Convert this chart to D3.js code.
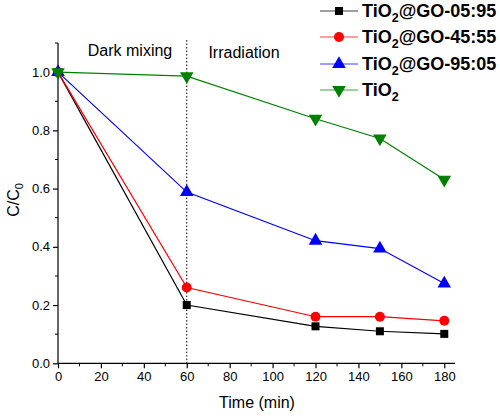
<!DOCTYPE html>
<html><head><meta charset="utf-8">
<script src="https://cdn.jsdelivr.net/npm/d3@7"></script>
<style>body{margin:0;background:#fff;}svg{display:block;font-family:"Liberation Sans",Arial,sans-serif;}</style>
</head><body>
<svg id="c" width="500" height="416"></svg>
<script>
const times = [0, 60, 120, 150, 180];
const seriesNames = ["TiO2@GO-05:95", "TiO2@GO-45:55", "TiO2@GO-95:05", "TiO2"];
const black = [1.0, 0.200, 0.127, 0.110, 0.101];
const red = [1.0, 0.260, 0.160, 0.160, 0.146];
const blue = [1.0, 0.588, 0.421, 0.394, 0.274];
const green = [1.0, 0.986, 0.840, 0.772, 0.631];
const xTicks = [0, 20, 40, 60, 80, 100, 120, 140, 160, 180];
const yTicks = [0.0, 0.2, 0.4, 0.6, 0.8, 1.0];
const phaseLabels = ["Dark mixing", "Irradiation"];
const phaseBoundary = 60;

const colors = ["#000000", "#ff0000", "#0000ff", "#008000"];
const symbols = [d3.symbolSquare, d3.symbolCircle, d3.symbolTriangle, "tridown"];
const allSeries = [black, red, blue, green];

const svg = d3.select("#c");
const x = d3.scaleLinear().domain([0, 185]).range([58, 455]);
const y = d3.scaleLinear().domain([0, 1.1]).range([363.3, 43]);

// axes
const xAxis = d3.axisBottom(x).tickValues(xTicks).tickSize(5).tickPadding(3).tickFormat(d3.format("d"));
const gx = svg.append("g").attr("transform", `translate(0,${y(0)})`).call(xAxis);
gx.select(".domain").attr("d", `M${x(0)},0H${x(185)}`);
const xMinor = d3.range(10, 185, 20);
gx.selectAll(".minor").data(xMinor).enter().append("line")
  .attr("x1", d => x(d)).attr("x2", d => x(d)).attr("y1", 0).attr("y2", 3).attr("stroke", "#000");

const yAxis = d3.axisLeft(y).tickValues(yTicks).tickSize(5).tickPadding(3).tickFormat(d3.format(".1f"));
const gy = svg.append("g").attr("transform", `translate(${x(0)},0)`).call(yAxis);
gy.select(".domain").attr("d", `M0,${y(0)}V${y(1.1)}`);
const yMinor = [0.1, 0.3, 0.5, 0.7, 0.9, 1.1];
gy.selectAll(".minor").data(yMinor).enter().append("line")
  .attr("x1", 0).attr("x2", -3).attr("y1", d => y(d)).attr("y2", d => y(d)).attr("stroke", "#000");

svg.selectAll(".tick text").attr("font-size", 13).attr("fill", "#000")
  .attr("font-family", '"Liberation Sans",Arial,sans-serif');
svg.selectAll(".domain, .tick line").attr("stroke", "#000").attr("stroke-width", 1.2);

// dotted divider
svg.append("line").attr("x1", x(phaseBoundary)).attr("x2", x(phaseBoundary))
  .attr("y1", y(1.11)).attr("y2", y(0)).attr("stroke", "#000").attr("stroke-width", 1)
  .attr("stroke-dasharray", "1.5,2");

svg.append("text").attr("x", 130).attr("y", 56).attr("text-anchor", "middle")
  .attr("font-size", 16).text(phaseLabels[0]);
svg.append("text").attr("x", 244).attr("y", 58).attr("text-anchor", "middle")
  .attr("font-size", 16).text(phaseLabels[1]);

// axis titles
svg.append("text").attr("x", 257).attr("y", 408).attr("text-anchor", "middle")
  .attr("font-size", 16).text("Time (min)");
const yl = svg.append("text").attr("transform", "translate(19,200) rotate(-90)")
  .attr("text-anchor", "middle").attr("font-size", 16);
yl.append("tspan").text("C/C");
yl.append("tspan").attr("font-size", 11).attr("dy", 4).text("0");

function markerPath(i, size) {
  if (symbols[i] === "tridown") {
    return d3.symbol().type(d3.symbolTriangle).size(size)();
  }
  return d3.symbol().type(symbols[i]).size(size)();
}
const sizes = [64, 78, 80, 80];

const line = d3.line().x((d, j) => x(times[j])).y(d => y(d));
allSeries.forEach((s, i) => {
  const g = svg.append("g");
  g.append("path").attr("d", line(s)).attr("fill", "none")
    .attr("stroke", colors[i]).attr("stroke-width", 1.2);
  g.selectAll("path.m").data(s).enter().append("path").attr("class", "m")
    .attr("d", markerPath(i, sizes[i]))
    .attr("transform", (d, j) => `translate(${x(times[j])},${y(d)})${symbols[i] === "tridown" ? " rotate(180)" : ""}`)
    .attr("fill", colors[i]);
});

// legend
const legY = [11, 37, 64, 90];
seriesNames.forEach((name, i) => {
  const g = svg.append("g").attr("transform", `translate(0,${legY[i]})`);
  g.append("line").attr("x1", 320).attr("x2", 358).attr("y1", 0).attr("y2", 0)
    .attr("stroke", colors[i]).attr("stroke-width", 1.2).attr("stroke-opacity", 0.75);
  g.append("path").attr("d", markerPath(i, sizes[i]))
    .attr("transform", `translate(339,0)${symbols[i] === "tridown" ? " rotate(180)" : ""}`)
    .attr("fill", colors[i]);
  const t = g.append("text").attr("x", 362).attr("y", 6).attr("font-size", 18).attr("font-weight", "bold");
  const m = name.match(/^TiO2(.*)$/);
  t.append("tspan").text("TiO");
  t.append("tspan").attr("font-size", 12.5).attr("dy", 5).text("2");
  if (m[1]) t.append("tspan").attr("dy", -5).text(m[1]);
});
</script>
</body></html>
